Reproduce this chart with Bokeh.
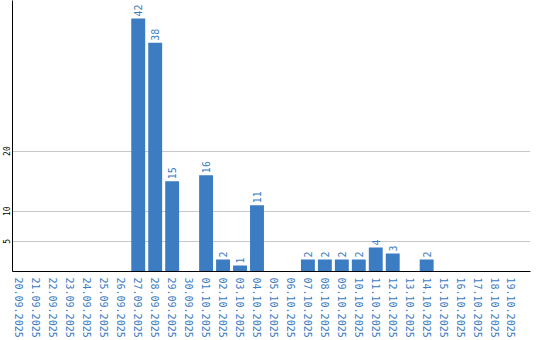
import math
from bokeh.plotting import figure
from bokeh.models import ColumnDataSource, Range1d, FixedTicker
from bokeh.core.properties import value
from bokeh.embed import file_html
from bokeh.resources import INLINE

dates = ["20.09.2025", "21.09.2025", "22.09.2025", "23.09.2025", "24.09.2025",
         "25.09.2025", "26.09.2025", "27.09.2025", "28.09.2025", "29.09.2025",
         "30.09.2025", "01.10.2025", "02.10.2025", "03.10.2025", "04.10.2025",
         "05.10.2025", "06.10.2025", "07.10.2025", "08.10.2025", "09.10.2025",
         "10.10.2025", "11.10.2025", "12.10.2025", "13.10.2025", "14.10.2025",
         "15.10.2025", "16.10.2025", "17.10.2025", "18.10.2025", "19.10.2025"]
counts = [0, 0, 0, 0, 0, 0, 0, 42, 38, 15, 0, 16, 2, 1, 11, 0, 0, 2, 2, 2, 2, 4, 3, 0, 2, 0, 0, 0, 0, 0]
y_ticks = [5, 10, 20]

BLUE = "#3b7cc2"
FONT = "DejaVu Sans Mono"

idx = list(range(len(dates)))
src = ColumnDataSource(dict(x=idx, top=counts))
nz = [i for i, c in enumerate(counts) if c > 0]
lab_src = ColumnDataSource(dict(x=[idx[i] for i in nz], y=[counts[i] for i in nz],
                                lab=[str(counts[i]) for i in nz]))

p = figure(width=540, height=340, output_backend="svg", toolbar_location=None,
           x_range=Range1d(-0.41, 30.12), y_range=Range1d(0, 45),
           min_border_left=0, min_border_right=10, min_border_top=0, min_border_bottom=0)
p.outline_line_color = None
p.background_fill_color = "white"
p.border_fill_color = "white"

p.vbar(x="x", top="top", width=0.82, bottom=0, source=src, fill_color=BLUE, line_color=None)
p.text(x="x", y="y", text="lab", source=lab_src, angle=math.pi / 2,
       text_align="left", text_baseline="middle", y_offset=-2,
       text_color=BLUE, text_font=value(FONT), text_font_size="10px")

# x axis
p.xaxis.ticker = FixedTicker(ticks=idx)
p.xaxis.major_label_overrides = {i: d for i, d in zip(idx, dates)}
p.xaxis.major_label_orientation = "vertical"
p.xaxis.major_label_text_color = BLUE
p.xaxis.major_label_text_font = FONT
p.xaxis.major_label_text_font_size = "10px"
p.xaxis.major_tick_out = 0
p.xaxis.major_tick_in = 0
p.xaxis.minor_tick_out = 0
p.xaxis.minor_tick_in = 0
p.xaxis.major_tick_line_color = None
p.xaxis.minor_tick_line_color = None
p.xaxis.major_label_standoff = 6
p.xaxis.axis_line_color = "black"

# y axis
p.yaxis.ticker = FixedTicker(ticks=y_ticks)
p.yaxis.major_label_orientation = "vertical"
p.yaxis.major_label_text_color = "black"
p.yaxis.major_label_text_font = FONT
p.yaxis.major_label_text_font_size = "8px"
p.yaxis.major_tick_out = 0
p.yaxis.major_tick_in = 0
p.yaxis.minor_tick_out = 0
p.yaxis.minor_tick_in = 0
p.yaxis.major_tick_line_color = None
p.yaxis.minor_tick_line_color = None
p.yaxis.major_label_standoff = 2
p.yaxis.axis_line_color = "black"

p.xgrid.grid_line_color = None
p.ygrid.ticker = FixedTicker(ticks=y_ticks)
p.ygrid.grid_line_color = "#c8c8c8"

open("out.html", "w").write(file_html(p, INLINE))
